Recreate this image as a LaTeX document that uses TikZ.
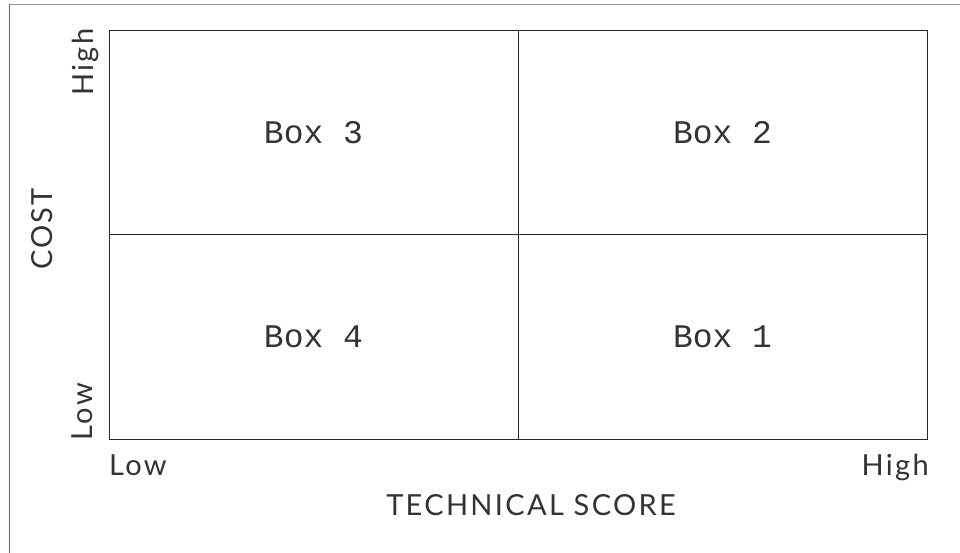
\documentclass[tikz,border=0pt]{standalone}
\usepackage{fontspec}
\newfontfamily\axisfont[LetterSpace=8]{Lato}
\newfontfamily\boxfont{Liberation Mono}
\begin{document}
\begin{tikzpicture}[x=1pt,y=-1pt,
  frameline/.style={line width=1pt},
  quad/.style={draw=black!85,line width=1pt,rectangle,inner sep=0pt,outer sep=0pt,
    minimum width=409pt,minimum height=204pt,font=\boxfont\fontsize{33}{33}\selectfont,text=black!80},
  axislabel/.style={inner sep=0pt,font=\axisfont\fontsize{29}{29}\selectfont,text=black!80}]
\useasboundingbox (0,0) rectangle (960,553);
\fill[white] (0,0) rectangle (960,553);
% outer frame
\coordinate (fc) at (9.5,4.5);
\coordinate (ftr) at (960,4.5);
\coordinate (fbl) at (9.5,553);
\draw[frameline,draw=black!40] (fc) -- (ftr);
\draw[frameline,draw=black!60] (fc) -- (fbl);
% quadrants
\node[quad] (q3) at (313.5,133) {Box 3};
\node[quad] (q2) at (722.5,133) {Box 2};
\node[quad] (q4) at (313.5,337) {Box 4};
\node[quad] (q1) at (722.5,337) {Box 1};
% axis labels
\node[axislabel,anchor=base west] (xlow) at (109,475) {Low};
\node[axislabel,anchor=base east] (xhigh) at (929,475) {High};
\node[axislabel,anchor=base] (xtitle) at (531,515) {TECHNICAL SCORE};
\node[axislabel,anchor=base,rotate=90] (ylow) at (92,411.5) {Low};
\node[axislabel,anchor=base,rotate=90] (yhigh) at (93,62) {High};
\node[axislabel,anchor=base,rotate=90] (ytitle) at (52,229) {COST};
\end{tikzpicture}
\end{document}
